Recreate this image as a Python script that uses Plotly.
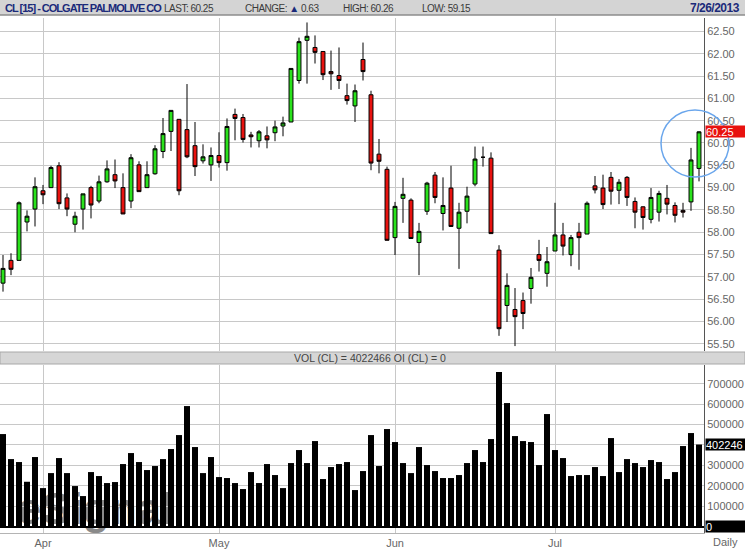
import pandas as pd
import plotly.graph_objects as go

# trading days 22 Mar - 26 Jul 2013 (NYSE holidays removed)
holidays = ["2013-03-29", "2013-05-27", "2013-07-04"]
dates = [d.strftime("%Y-%m-%d") for d in pd.bdate_range("2013-03-22", "2013-07-26")
         if d.strftime("%Y-%m-%d") not in holidays]

opens = [56.86, 57.37, 57.37, 58.23, 58.52, 58.93, 59.00, 59.49, 58.77, 58.18,
         58.52, 59.00, 58.70, 59.13, 59.29, 59.00, 58.70, 59.51, 59.00, 59.31,
         59.81, 60.26, 60.53, 60.30, 59.94, 59.60, 59.51, 59.72, 59.56, 60.64,
         60.57, 60.18, 60.05, 60.16, 60.23, 60.38, 60.47, 61.40, 62.30, 62.14,
         62.05, 61.60, 61.51, 61.06, 60.83, 61.87, 61.08, 59.75, 59.41, 57.88,
         58.76, 58.72, 57.77, 58.47, 59.28, 58.42, 58.99, 58.09, 58.47, 59.08,
         59.68, 59.66, 57.60, 56.36, 56.27, 56.47, 56.74, 57.50, 57.08, 57.58,
         57.94, 57.50, 58.00, 57.96, 59.04, 58.99, 59.23, 58.94, 59.23, 58.69,
         58.57, 58.29, 58.45, 58.76, 58.60, 58.49, 58.68, 59.43]
highs = [57.49, 57.53, 58.69, 58.49, 59.23, 59.06, 59.49, 59.57, 58.87, 58.46,
         58.86, 59.04, 59.27, 59.61, 59.63, 59.32, 59.75, 59.59, 59.59, 59.95,
         60.56, 60.73, 60.53, 61.32, 60.47, 59.97, 59.90, 60.24, 60.55, 60.77,
         60.65, 60.25, 60.29, 60.37, 60.50, 60.59, 61.67, 62.36, 62.70, 62.41,
         62.05, 62.07, 62.14, 61.33, 61.31, 62.25, 61.17, 60.09, 59.47, 58.68,
         59.22, 58.76, 58.21, 59.13, 59.35, 59.23, 59.49, 58.66, 59.02, 59.92,
         59.92, 59.79, 57.71, 57.08, 56.75, 56.65, 57.20, 57.83, 57.67, 58.66,
         58.21, 57.94, 58.21, 58.69, 59.26, 59.29, 59.35, 59.19, 59.26, 58.78,
         58.58, 58.99, 58.93, 59.06, 58.67, 58.66, 59.89, 60.26]
lows = [56.67, 57.04, 57.37, 58.02, 58.13, 58.63, 59.00, 58.52, 58.36, 58.00,
        58.06, 58.31, 58.65, 59.11, 58.99, 58.41, 58.54, 58.91, 59.00, 59.29,
        59.66, 59.82, 58.83, 59.66, 59.26, 59.54, 59.15, 59.45, 59.38, 60.06,
        60.01, 59.90, 59.90, 59.88, 60.04, 60.15, 60.47, 61.33, 61.33, 61.78,
        61.41, 61.19, 61.21, 60.86, 60.47, 61.40, 59.39, 59.32, 57.82, 57.49,
        58.21, 57.86, 57.04, 58.39, 58.65, 58.04, 58.13, 57.18, 58.20, 59.03,
        59.47, 57.97, 55.68, 55.99, 55.45, 55.83, 56.40, 57.12, 56.78, 57.58,
        57.48, 57.24, 57.16, 57.96, 58.87, 58.52, 58.62, 58.63, 58.59, 58.09,
        58.06, 58.20, 58.24, 58.40, 58.22, 58.33, 58.48, 59.14]
closes = [57.19, 57.17, 58.66, 58.36, 59.02, 58.84, 59.45, 58.64, 58.52, 58.36,
          58.86, 58.61, 59.13, 59.42, 59.15, 58.41, 59.67, 58.91, 59.29, 59.87,
          60.21, 60.73, 58.93, 59.69, 59.47, 59.69, 59.72, 59.56, 60.37, 60.55,
          60.08, 60.14, 60.25, 60.07, 60.36, 60.45, 61.67, 62.27, 62.39, 62.03,
          61.53, 61.55, 61.40, 60.95, 61.17, 61.60, 59.55, 59.59, 57.82, 58.58,
          58.85, 57.86, 58.02, 59.10, 58.78, 58.60, 58.13, 58.45, 58.81, 59.64,
          59.68, 57.97, 55.84, 56.81, 56.11, 56.18, 56.99, 57.37, 57.34, 57.94,
          57.69, 57.88, 57.88, 58.65, 58.95, 58.62, 58.92, 59.12, 58.78, 58.45,
          58.33, 58.78, 58.87, 58.63, 58.38, 58.45, 59.62, 60.25]
volumes = [453500, 331000, 316500, 220000, 341000, 189000, 262500, 336000, 262500, 199000,
           150000, 267500, 248000, 213700, 218600, 306700, 360500, 316500, 277300, 297000,
           331000, 380100, 448600, 590500, 389900, 262500, 341000, 243000, 238200, 213700,
           184300, 267500, 213700, 306700, 252900, 189000, 311600, 375200, 311600, 419200,
           233300, 292000, 306700, 316500, 179400, 272400, 448600, 297000, 478000, 414400,
           311600, 262500, 389900, 301800, 272400, 238200, 238200, 252900, 311600, 375200,
           316500, 429000, 757000, 605200, 443700, 419200, 414400, 301800, 551400, 375200,
           336000, 248000, 252900, 252900, 292000, 248000, 433900, 267500, 331000, 311600,
           292000, 326300, 316500, 233300, 267500, 394800, 458400, 402246]

month_starts = ["2013-04-01", "2013-05-01", "2013-06-03", "2013-07-01"]
month_labels = ["Apr", "May", "Jun", "Jul"]
vol_ticks = [100000, 200000, 300000, 400000, 500000, 600000, 700000]
# 400000 sits under the last-volume box, so its label is left blank
vol_labels = ["100000", "200000", "300000", "", "500000", "600000", "700000"]

W, H = 745, 550
ML, MR, MT, MB = 0, 41, 18, 17
PW, PH = W - ML - MR, H - MT - MB


def px(x):
    return x / PW


def py(y):
    return (H - MB - y) / PH


grid = "#c8c8c8"
tickfont = dict(family="Liberation Sans, Arial", size=11, color="#666666")
navy = "#1b2a7a"
narrow = "Liberation Sans Narrow, Arial Narrow, Liberation Sans, Arial"

fig = go.Figure()

fig.add_trace(go.Candlestick(
    x=dates, open=opens, high=highs, low=lows, close=closes,
    increasing=dict(fillcolor="#2ae21c", line=dict(color="black", width=1)),
    decreasing=dict(fillcolor="#e8120f", line=dict(color="black", width=1)),
    whiskerwidth=0, hoverinfo="skip", xaxis="x", yaxis="y"))

fig.add_trace(go.Bar(
    x=dates, y=volumes, marker_color="black", marker_line_width=0,
    width=0.75, xaxis="x2", yaxis="y2", hoverinfo="skip"))

fig.update_layout(
    width=W, height=H,
    margin=dict(l=ML, r=MR, t=MT, b=MB),
    paper_bgcolor="white", plot_bgcolor="rgba(0,0,0,0)",
    showlegend=False,
    xaxis=dict(type="category", range=[-0.375, 87.625], domain=[0, 1], anchor="y",
               tickvals=month_starts, showticklabels=False, ticks="",
               showgrid=True, gridcolor=grid, gridwidth=1,
               rangeslider=dict(visible=False), fixedrange=True),
    xaxis2=dict(type="category", matches="x", domain=[0, 1], anchor="y2",
                tickvals=month_starts, ticktext=month_labels, ticks="",
                showgrid=True, gridcolor=grid, gridwidth=1,
                showline=True, linecolor="#b4b4b4", linewidth=1,
                tickfont=tickfont, automargin=False, fixedrange=True),
    yaxis=dict(domain=[py(351), 1], anchor="x", side="right",
               range=[55.34, 62.80], tick0=55.5, dtick=0.5, tickformat=".2f",
               showgrid=True, gridcolor=grid, gridwidth=1, zeroline=False,
               showline=True, linecolor="#555555", linewidth=1, ticks="",
               tickfont=tickfont, automargin=False, fixedrange=True),
    yaxis2=dict(domain=[0, py(365)], anchor="x2", side="right",
                range=[-30800, 791500], tickvals=vol_ticks, ticktext=vol_labels,
                showgrid=True, gridcolor=grid, gridwidth=1,
                zeroline=True, zerolinecolor="black", zerolinewidth=2,
                showline=True, linecolor="#555555", linewidth=1, ticks="",
                tickfont=tickfont, automargin=False, fixedrange=True),
)

shapes = [
    # header strip
    dict(type="rect", xref="paper", yref="paper", x0=0, x1=px(W), y0=py(15), y1=py(0),
         fillcolor="#d4d4d4", line_width=0, layer="below"),
    dict(type="line", xref="paper", yref="paper", x0=0, x1=px(W), y0=py(15), y1=py(15),
         line=dict(color="#8c8c8c", width=1.5)),
    # volume title strip
    dict(type="rect", xref="paper", yref="paper", x0=0, x1=px(W), y0=py(364), y1=py(352),
         fillcolor="#d6d6d6", line=dict(color="#a8a8a8", width=1)),
    # highlight circle around the last bar
    dict(type="circle", xref="paper", yref="paper", x0=px(661), x1=px(729),
         y0=py(177), y1=py(110), line=dict(color="#6aa6ec", width=1.5)),
    # watermark
    dict(type="rect", xref="paper", yref="paper", x0=px(18), x1=px(172),
         y0=py(528), y1=py(480), line_width=0, fillcolor="rgba(0,0,0,0)", layer="below",
         label=dict(text="<b>eSignal</b>",
                    font=dict(family="Liberation Sans, Arial", size=44, color="#8a8a8a"))),
]
fig.update_layout(shapes=shapes)

hdr_y = py(8)
hfont = dict(family=narrow, size=10, color="#3a3a3a")
sq = "<span style='letter-spacing:-0.5px'>%s</span>"
ann = [
    dict(text="<b><span style='letter-spacing:-1px'>CL [15] - COLGATE PALMOLIVE CO</span></b>",
         x=px(3), xanchor="left", font=dict(family=narrow, size=11, color=navy)),
    dict(text=sq % "LAST: 60.25", x=px(162), xanchor="left", font=hfont),
    dict(text=sq % ("CHANGE: <span style='color:%s'>▲</span> 0.63" % navy),
         x=px(243), xanchor="left", font=hfont),
    dict(text=sq % "HIGH: 60.26", x=px(341), xanchor="left", font=hfont),
    dict(text=sq % "LOW: 59.15", x=px(420), xanchor="left", font=hfont),
    dict(text="<b><span style='letter-spacing:-0.5px'>7/26/2013</span></b>",
         x=px(742), xanchor="right", font=dict(family=narrow, size=12, color=navy)),
]
for a in ann:
    a.update(xref="paper", yref="paper", y=hdr_y, yanchor="middle", showarrow=False)

ann += [
    dict(text="VOL (CL) = 4022466 OI (CL) = 0", xref="paper", yref="paper",
         x=px(370), y=py(358), xanchor="center", yanchor="middle", showarrow=False,
         font=dict(family="Liberation Sans, Arial", size=10.5, color="#444444")),
    dict(text="60.25", xref="paper", yref="y", x=px(705), y=closes[-1],
         xanchor="left", yanchor="middle", showarrow=False, align="left",
         width=40, height=11, bgcolor="#e8120f", borderpad=0,
         font=dict(family="Liberation Sans, Arial", size=11, color="white")),
    dict(text="402246", xref="paper", yref="y2", x=px(705), y=volumes[-1],
         xanchor="left", yanchor="middle", showarrow=False, align="left",
         width=40, height=11, bgcolor="black", borderpad=0,
         font=dict(family="Liberation Sans, Arial", size=11, color="white")),
    dict(text="0", xref="paper", yref="y2", x=px(705), y=0,
         xanchor="left", yanchor="middle", showarrow=False, align="left",
         width=40, height=11, bgcolor="black", borderpad=0,
         font=dict(family="Liberation Sans, Arial", size=11, color="white")),
    dict(text="Daily", xref="paper", yref="paper", x=px(711), y=py(542),
         xanchor="left", yanchor="middle", showarrow=False,
         font=dict(family="Liberation Sans, Arial", size=11, color="#666666")),
]
fig.update_layout(annotations=ann)

# the page body has an 8px default margin; drop it so the figure sits at 0,0
fig.write_html("out.html", config={"displayModeBar": False},
               post_script="document.body.style.margin='0px';")
